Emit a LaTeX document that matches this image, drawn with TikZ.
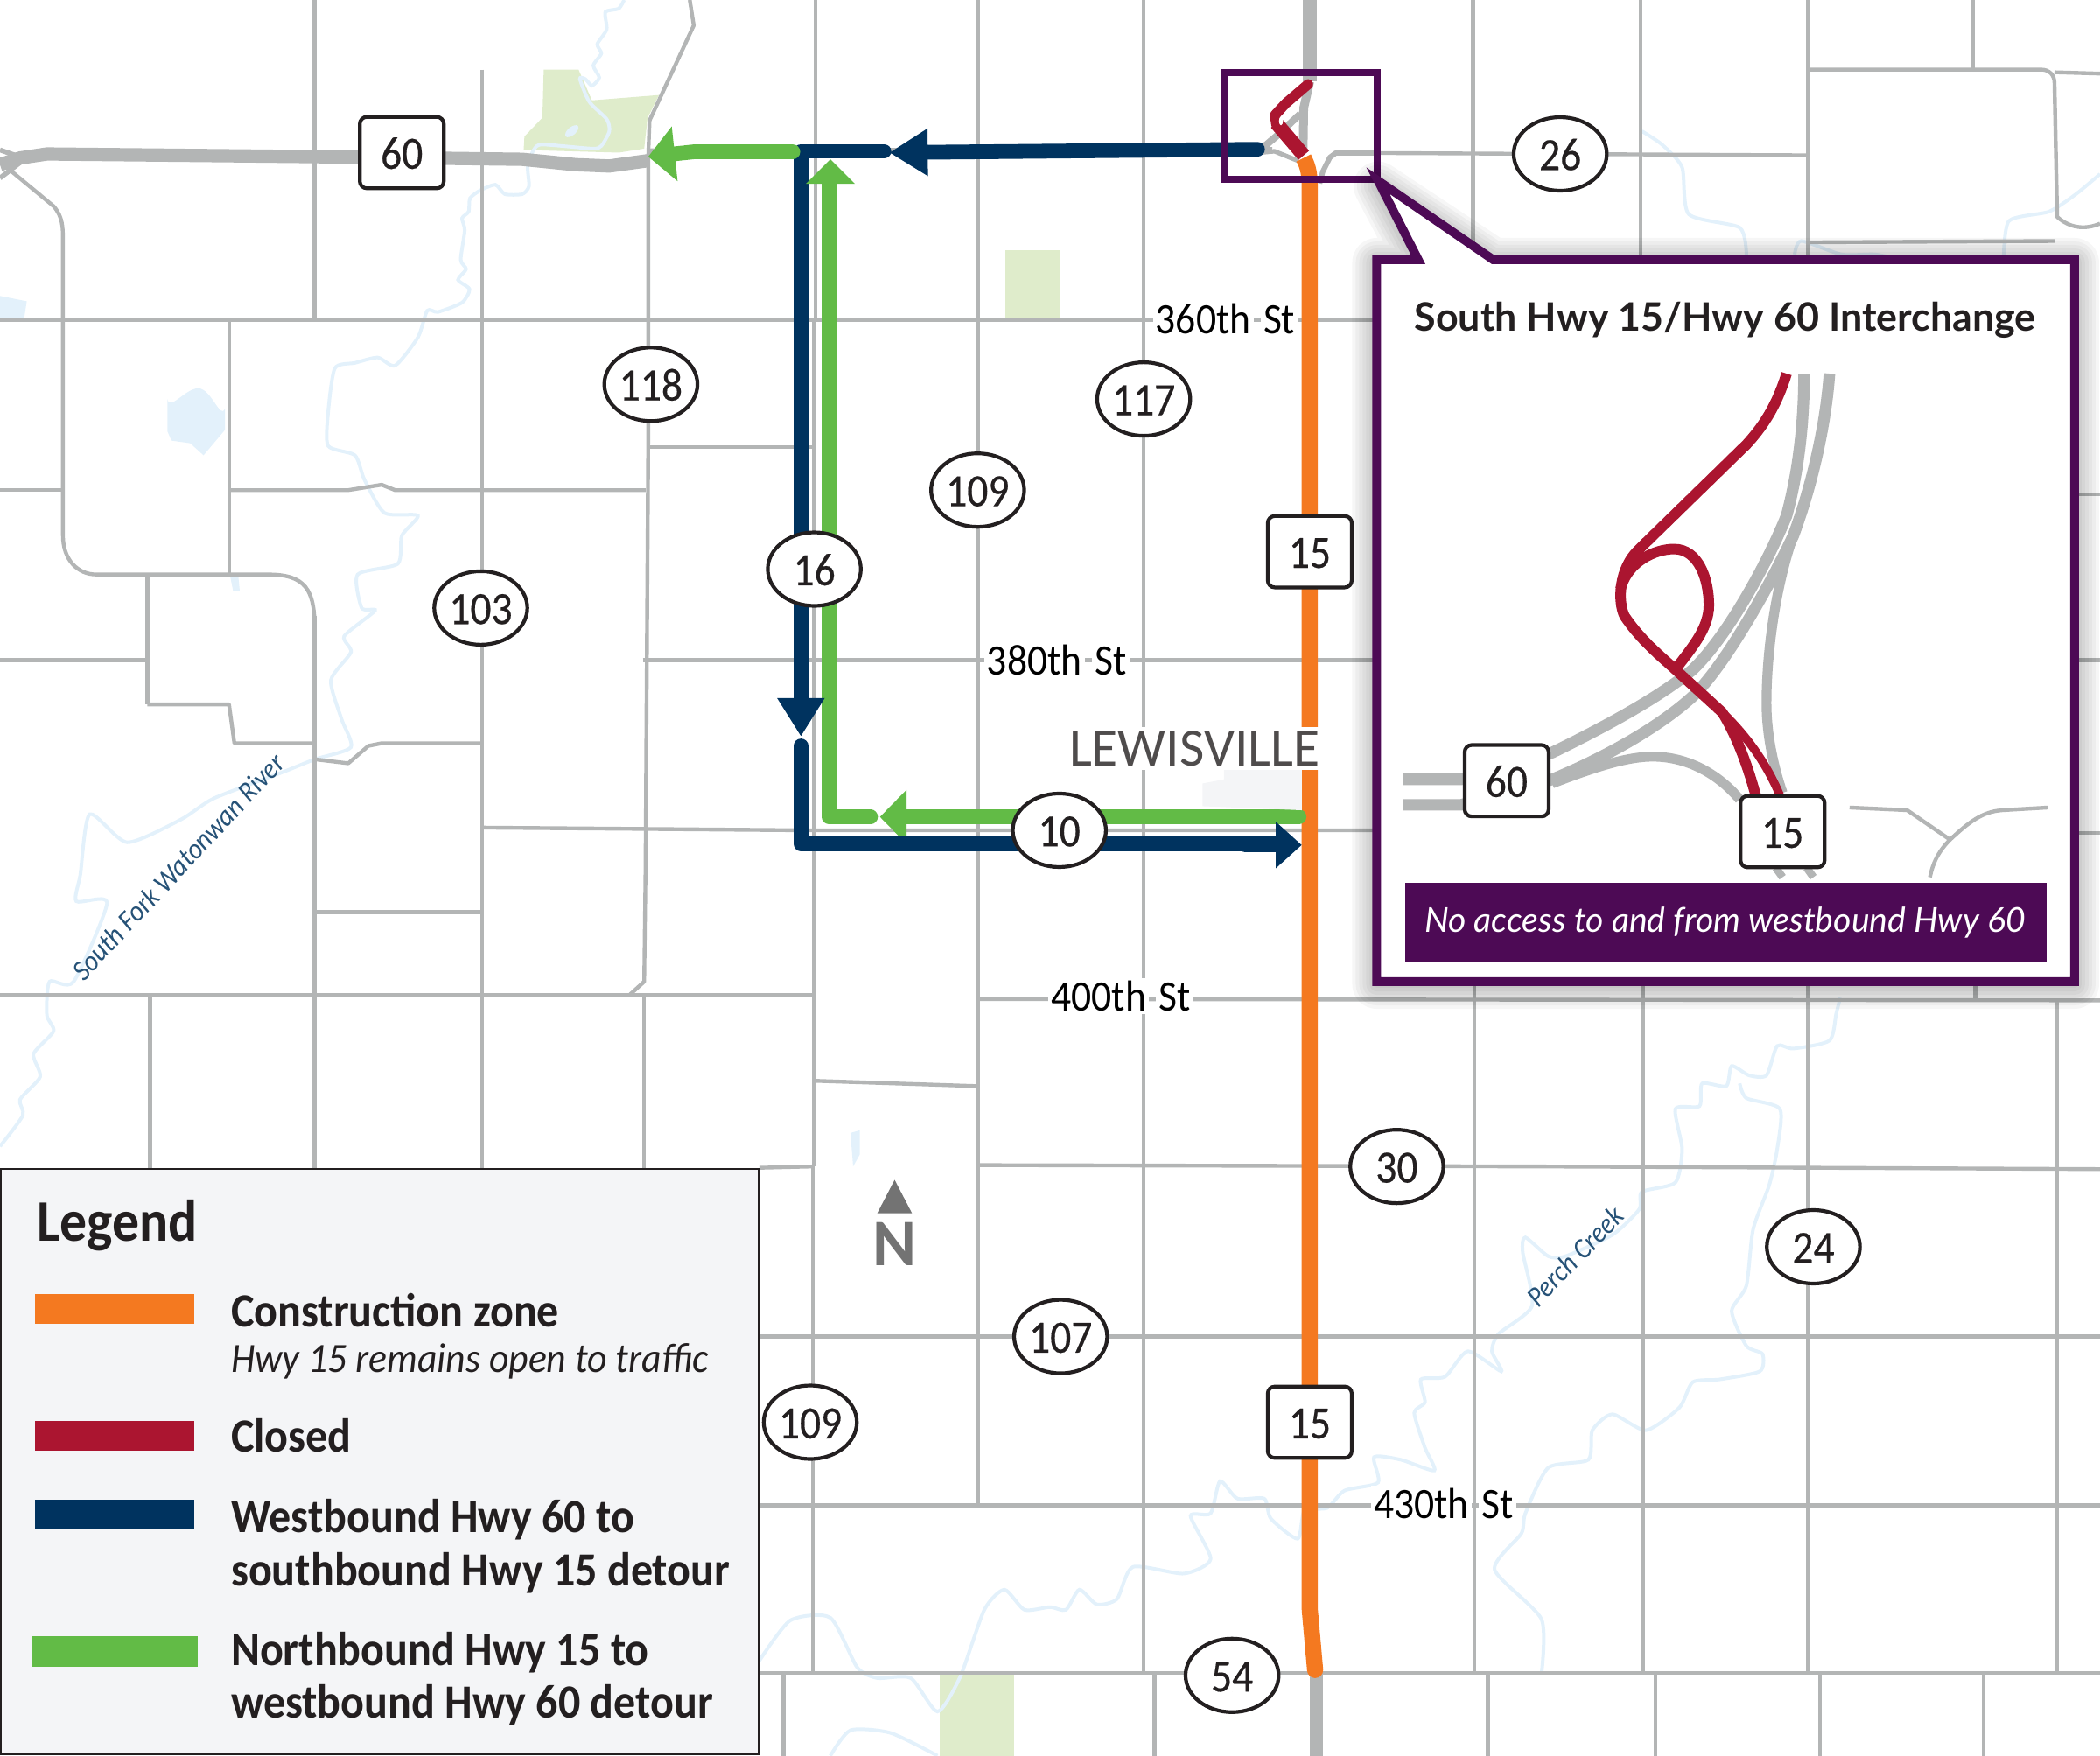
\documentclass[tikz,border=0pt]{standalone}
\usepackage{fontspec}
\setmainfont[FakeStretch=0.92]{Carlito}
\newfontfamily\insetfont{Lato}
\newfontfamily\townfont{Carlito}
\newfontfamily\shieldfont[FakeStretch=0.9, FakeBold=0.35]{Carlito}
\usetikzlibrary{positioning, shapes.geometric, arrows.meta}

\definecolor{roadgray}{HTML}{B3B5B5}
\definecolor{watercol}{HTML}{E3F1FB}
\definecolor{parkcol}{HTML}{DFECCB}
\definecolor{zoneorange}{HTML}{F47920}
\definecolor{closedred}{HTML}{AB1530}
\definecolor{navyroute}{HTML}{00335F}
\definecolor{greenroute}{HTML}{62BB46}
\definecolor{insetpurple}{HTML}{4D0A55}
\definecolor{inkdark}{HTML}{231F20}
\definecolor{legendbg}{HTML}{F4F5F7}

\tikzset{
  road/.style={draw=roadgray, line width=1.1pt, line join=round},
  highway/.style={draw=roadgray, line width=3.8pt, line join=round},
  ramp/.style={draw=roadgray, line width=3.3pt, line cap=butt},
  river/.style={draw=watercol, line width=1pt},
  water/.style={fill=watercol, draw=none},
  park/.style={fill=parkcol, draw=none},
  shieldoval/.style={ellipse, draw=inkdark, fill=white, line width=1.05pt, minimum width=26.6pt, minimum height=21pt, inner sep=0pt, text=inkdark, text height=9.2pt, text depth=0pt, font=\shieldfont\fontsize{13.2}{15}\selectfont},
  shieldbox/.style={rectangle, rounded corners=2pt, draw=inkdark, fill=white, line width=1.05pt, minimum width=24pt, minimum height=20.4pt, inner sep=0pt, text=inkdark, text height=9.2pt, text depth=0pt, font=\shieldfont\fontsize{13.2}{15}\selectfont},
  navyline/.style={draw=navyroute, line width=4.2pt, line cap=round, line join=round},
  greenline/.style={draw=greenroute, line width=4.2pt, line cap=round, line join=round},
  closedline/.style={draw=closedred, line width=3pt, line join=round},
  streetname/.style={inner sep=0pt, text=black, font=\fontsize{12.4}{14}\selectfont},
  rivername/.style={inner sep=0pt, text=navyroute!85, font=\fontsize{8.2}{10}\itshape\selectfont},
  legendtext/.style={anchor=base west, inner sep=0pt, text=inkdark, font=\fontsize{13.6}{16}\bfseries\selectfont},
}
\newcommand{\gapname}[2]{\setlength{\fboxsep}{0.8pt}\colorbox{white}{#1}\,\colorbox{white}{#2}}

\begin{document}
\begin{tikzpicture}[x=0.38265pt, y=-0.38265pt]
  \useasboundingbox (0,0) rectangle (1568,1310.6);
  \clip (0,0) rectangle (1568,1310.6);

  % Parks and water
  \fill[park] (406,52) -- (432,52) -- (442,75) -- (492,71) -- (483.5,88) -- (481,111) -- (462,114) -- (391,112) -- (391.6,102) -- (405,88) -- cycle;
  \fill[park] (751,187) rectangle (792,238);
  \fill[park] (702,1250) rectangle (757,1311);
  \fill[water] (0,221) -- (20,225) -- (18,238) -- (0,239) -- cycle;
  \fill[water] (125,298) to[out=-80,in=180] (148,290) to[out=0,in=-110] (168,305) -- (168,321) -- (152,340) -- (142,331) -- (128,329) -- (125,322) -- cycle;
  \fill[water] (172,431) -- (178,431) -- (179,441) -- (174,441) -- cycle;
  \fill[water] (635,846) -- (642,844) -- (642,862) -- (637,871) -- cycle;
  \fill[water, rotate around={40:(427,98)}] (427,98) ellipse [x radius=6, y radius=3];

  % Rivers
  \draw[river] plot[smooth, tension=0.4] coordinates {(466,0) (462,6.5) (452,9) (453,22) (446,33) (449,40) (443,49) (447.5,58) (442,64) (437,59) (433,59) (440,76) (453,89) (455,98) (449,109) (442,111) (405,108) (398.5,112) (394,124) (395,139) (390,145) (377,145) (370,138) (359,142) (351,148) (350,158) (345,163) (347,172) (344,194) (348,201) (342,209) (350.6,216) (345,226) (327,233) (319,232) (312,252) (295,273) (282,267) (265,271) (250,275) (245,308) (245,333) (265,340) (272,358) (287,383) (312,385) (300,400) (297,421) (267,429) (270,454) (280,456) (257,475) (262,487) (247,508) (255,537) (262,558) (235,567) (210,577) (160,596) (135,612) (95,629) (67,608) (60,653) (57,673) (80,674) (55,733) (37,733) (35,758) (40,770) (25,787) (30,804) (15,821) (17,833) (0,856)};
  \draw[river] plot[smooth, tension=0.4] coordinates {(1374,745) (1371,757) (1366,777) (1339,783) (1327,781) (1319,803) (1306,803) (1293,796) (1289,811) (1271,809) (1269,826) (1251,828) (1256,858) (1251,883) (1226,890) (1224,903) (1204,922) (1169,938) (1156,938) (1139,924) (1137,935) (1144,975) (1119,996) (1114,1009) (1121,1024) (1096,1009) (1079,1028) (1061,1030) (1064,1047) (1056,1055) (1064,1081) (1071,1098) (1046,1090) (1026,1088) (1029,1107) (1004,1113) (991,1126) (974,1128) (969,1149) (949,1134) (944,1119) (924,1119) (911,1106) (904,1130) (889,1132) (904,1164) (884,1175) (846,1170) (834,1194) (819,1198) (806,1187) (796,1202) (784,1200) (765,1202) (750,1187) (735,1202) (717,1252) (700,1278) (680,1253) (655,1253) (640,1245) (620,1208) (590,1210) (567,1240)};
  \draw[river] plot[smooth, tension=0.4] coordinates {(1299,809) (1304,820) (1329,828) (1327,858) (1321,885) (1309,918) (1304,960) (1293,979) (1304,1005) (1316,1011) (1314,1024) (1284,1030) (1264,1032) (1254,1051) (1229,1068) (1204,1056) (1189,1068) (1186,1090) (1156,1096) (1139,1130) (1136,1145) (1116,1172) (1151,1209) (1151,1250)};
  \draw[river] plot[smooth, tension=0.4] coordinates {(620,1311) (635,1292) (665,1294) (700,1311)};
  \draw[river] plot[smooth, tension=0.4] coordinates {(1226,98) (1241,108) (1256,125) (1261,160) (1299,170) (1304,190)};
  \draw[river] plot[smooth, tension=0.4] coordinates {(1340,190) (1345,180) (1375,190) (1400,190) (1420,194)};
  \draw[river] plot[smooth, tension=0.4] coordinates {(1496,194) (1500,165) (1530,158) (1550,145) (1568,130)};

  % Straight roads
  \foreach \x/\a/\b in {235/0/239, 235/460/873, 360/52/873, 609/0/240, 608/240/871, 607/871/1250, 730/0/1124, 854/0/1248, 1100/0/194, 1225/0/194, 1350/0/194, 1473/0/52, 1101/736/1248, 1227/736/1248, 1350/736/1248, 1475/736/746, 1536/746/1248, 862/1250/1311, 1111/1250/1311, 1236/1250/1311, 1359/1250/1311, 1481/1250/1311, 585/1250/1311, 112/744/873, 171/239/429, 110/429/526, 481/743/873}
    \draw[road] (\x,\a) -- (\x,\b);
  \foreach \y/\a/\b in {239/0/1028, 366/0/47, 334/484/608, 493/0/110, 493/480/1030, 681/235/360, 1124/567/1568, 1249/567/1568, 369/1552/1568, 493/1552/1568, 622/1552/1568}
    \draw[road] (\a,\y) -- (\b,\y);
  \draw[road, line width=1.3pt] (0,743) -- (607,743);
  \draw[road, line width=1.3pt] (567,998) -- (1568,998);

  % Bent roads
  \draw[road] (171,366) -- (260,366) -- (285,362) -- (295,366) -- (482,366);
  \draw[road] (515,0) -- (518,19) -- (485,90) -- (484,117) -- (484,330) -- (482,650) -- (481,733) -- (470,743);
  \draw[road] (5,125) -- (40,154) .. controls (47,162) and (47,170) .. (47,180) -- (47,400) .. controls (47,418) and (58,429) .. (72,429) -- (200,429) .. controls (228,429) and (235,440) .. (235,470);
  \draw[road] (110,526) -- (171,526) -- (175,555) -- (235,555);
  \draw[road] (235,567) -- (260,570) -- (275,557) -- (285,555) -- (360,555);
  \draw[road] (360,618) -- (484,619) -- (600,620) -- (1030,620);
  \draw[road] (607,807) -- (729,811);
  \draw[road] (730,870) -- (1150,871) -- (1568,873);
  \draw[road] (567,872) -- (607,871);
  \draw[road] (730,746) -- (1568,747);
  \draw[road, line width=1.5pt] (985.4,137) -- (987.6,128.5) -- (993,117.6) -- (997.4,114.3) -- (1030,114.3);
  \draw[road] (1030,114.3) -- (1350,116);
  \draw[road] (1350,52) -- (1524,52) .. controls (1530,52) and (1534,56) .. (1534,62) -- (1536,162) .. controls (1545,170) and (1556,172) .. (1568,167);
  \draw[road] (1534,54) -- (1568,55);
  \draw[road] (1350,181) -- (1534,180);

  % Highways
  \draw[highway] (978,0) -- (978,61);
  \draw[highway] (983,1245) -- (983,1311);
  \draw[highway] (0,123) -- (15,118) -- (35,115) -- (235,117) -- (390,119) -- (430,123) -- (455,124) -- (484,120);
  \draw[road, line width=1.4pt] (0,112) -- (20,119) (0,133) -- (22,116);
  \draw[road, line width=1.6pt] (484,113) -- (950,112);
  \draw[road, line width=2.5pt] (978,61) -- (973.5,80.6) -- (973,113);
  \draw[road, line width=2pt] (941,112) -- (954,101) -- (971,85);
  \draw[road, line width=1.3pt] (941,114) -- (951.7,113) -- (969,120);

  % Construction zone
  \draw[draw=zoneorange, line width=4.6pt, line join=round] (973.4,118) .. controls (976,123) and (978,128) .. (978,140) -- (978,1202) -- (982,1247);
  \fill[zoneorange] (982,1247) circle (2.3pt);
  \draw[closedline, line width=2.9pt, line cap=round] (976.7,63) -- (960,77.3) -- (952,86) -- (953,93);
  \draw[closedline, line width=4pt] (953,92) -- (973.5,116);
  \fill[white] (956.5,90.4) ellipse [x radius=1.5, y radius=3.2];

  % Detours
  \draw[greenline, -{Triangle[length=7.6pt, width=15pt]}] (970,610) -- (657,610);
  \draw[greenline] (650,610) -- (619,610) -- (619,135);
  \draw[navyline] (660,113) -- (598,113) -- (598,530);
  \draw[navyline, -{Triangle[length=11pt, width=12.8pt]}] (598,500) -- (598,550);
  \draw[navyline] (598,557) -- (598,630) -- (955,630);
  \draw[navyline, -{Triangle[length=7.4pt, width=12.8pt]}] (930,631) -- (972,631);
  \draw[navyline, -{Triangle[length=11pt, width=12.8pt]}] (939,111.5) -- (664,114);
  \draw[greenline, -{Triangle[length=7pt, width=13.6pt]}] (620,150) -- (620,119);
  \draw[greenline, -{Triangle[length=7.6pt, width=15.3pt]}] (592,113.4) -- (518,113.4) -- (484,117);

  % Small box on the map
  \draw[insetpurple, line width=2pt] (914,54.5) rectangle (1028.5,134);

  % Town
  \fill[legendbg] (898,585) -- (914,582) -- (914,568) -- (972,575) -- (972,605) -- (898,602) -- cycle;
  \node[fill=white, inner sep=1pt, text=inkdark!80, font=\townfont\fontsize{15.4}{17}\selectfont] (lewisville) at (892,559) {LEWISVILLE};

  % Street names
  \node[streetname] (st360) at (915,238) {\gapname{360th}{St}};
  \node[streetname] (st380) at (789,493) {\gapname{380th}{St}};
  \node[streetname] (st400) at (837,744) {\gapname{400th}{St}};
  \node[streetname] (st430) at (1078,1123) {\gapname{430th}{St}};
  \node[rivername, rotate=47] (watonwan) at (133,647) {South Fork Watonwan River};
  \node[rivername, rotate=46] (perch) at (1176,938) {Perch Creek};

  % Shields
  \foreach \name/\x/\y/\num in {sa/486/287/118, sb/359/454/103, sc/730/366/109, sd/608/425/16, se/854/298/117, sf/1165/115/26, sg/791/620/10, sh/1043/871/30, si/1354/931/24, sj/792/998/107, sk/605/1062/109, sl/920/1251/54}
    \node[shieldoval] (\name) at (\x,\y) {\num};
  \node[shieldbox] (hwysixty) at (300,114) {60};
  \node[shieldbox] (hwya) at (978,412) {15};
  \node[shieldbox] (hwyb) at (978,1062) {15};

  % North arrow
  \fill[black!55!white] (655,906) -- (668,881) -- (681,906) -- cycle;
  \node[text=black!55!white, inner sep=0pt, font=\townfont\fontsize{19}{20}\bfseries\selectfont] (north) at (668,929) {N};

  % Inset
  \foreach \w in {2,4,...,14}
    \draw[black, opacity=0.035, line width=\w pt, line join=round] (1028,196) -- (1059,196) -- (1029,139) -- (1115,196) -- (1549,196) -- (1549,735) -- (1028,735) -- cycle;
  \path[fill=white, draw=insetpurple, line width=2.5pt, line join=miter] (1028,194) -- (1059,194) -- (1029,135) -- (1115,194) -- (1549,194) -- (1549,733) -- (1028,733) -- cycle;
  \node[inner sep=0pt, text=inkdark, font=\insetfont\fontsize{11.2}{15}\bfseries\selectfont] (insettitle) at (1288,239) {South Hwy 15/Hwy 60 Interchange};

  \draw[ramp] (1048,582) -- (1091,582) -- (1159,562) .. controls (1200,542) and (1240,520) .. (1264,500) .. controls (1290,475) and (1320,420) .. (1334,385) .. controls (1342,355) and (1347,320) .. (1347,279);
  \draw[ramp] (1048,601) -- (1091,601) -- (1159,582) .. controls (1200,565) and (1240,542) .. (1264,520) .. controls (1290,495) and (1325,430) .. (1339,400) .. controls (1352,365) and (1363,320) .. (1366,279);
  \draw[ramp, line width=2.8pt] (1159,585) .. controls (1190,573) and (1215,565) .. (1234,565) .. controls (1262,565) and (1285,580) .. (1299,597);
  \draw[ramp, line width=2.8pt] (1339,400) .. controls (1325,440) and (1319,490) .. (1319,525) .. controls (1319,550) and (1325,575) .. (1331,592);
  \draw[ramp, line width=2.2pt] (1326,648) -- (1331,655) (1349,648) -- (1354,655);
  \draw[road] (1381,603) -- (1424,605) -- (1456,627) .. controls (1470,614) and (1480,606) .. (1495,605) -- (1529,603);
  \draw[road] (1456,627) .. controls (1447,636) and (1443,645) .. (1441,655);

  \draw[closedline] (1334,279) .. controls (1326,305) and (1315,320) .. (1304,332) -- (1224,410) .. controls (1208,425) and (1208,450) .. (1213,460) .. controls (1225,478) and (1240,490) .. (1251,500) -- (1286,532) .. controls (1297,550) and (1305,572) .. (1311,594);
  \draw[closedline] (1210,440) .. controls (1215,420) and (1235,410) .. (1250,410) .. controls (1268,410) and (1276,432) .. (1276,452) .. controls (1276,470) and (1262,485) .. (1251,500);
  \draw[closedline, line width=2.4pt] (1286,532) .. controls (1305,550) and (1320,572) .. (1329,594);

  \node[shieldbox] (insetsixty) at (1125,583) {60};
  \node[shieldbox] (insetfifteen) at (1331,621) {15};

  \fill[insetpurple] (1049.5,659) rectangle (1528,718);
  \node[inner sep=0pt, text=white, font=\insetfont\fontsize{9.8}{12}\itshape\selectfont] (insetnote) at (1288,689) {No access to and from westbound Hwy 60};

  % Legend
  \path[fill=legendbg, draw=inkdark, line width=0.6pt] (0.5,873) rectangle (566.5,1310);
  \node[anchor=base west, inner sep=0pt, text=inkdark, font=\fontsize{16.8}{18}\bfseries\selectfont] (legendtitle) at (27,926.5) {Legend};
  \fill[zoneorange] (26,966) rectangle (145,988.5);
  \fill[closedred] (26,1061) rectangle (145,1083.5);
  \fill[navyroute] (26,1120) rectangle (145,1142);
  \fill[greenroute] (24,1221.5) rectangle (147.5,1244.5);
  \foreach \y/\txt in {990.5/Construction zone, 1084/Closed, 1144/Westbound Hwy 60 to, 1184/southbound Hwy 15 detour, 1243.5/Northbound Hwy 15 to, 1283/westbound Hwy 60 detour}
    \node[legendtext] at (172,\y) {\txt};
  \node[legendtext, font=\fontsize{11.9}{15}\itshape\selectfont] (legendnote) at (172,1024.5) {Hwy 15 remains open to traffic};
\end{tikzpicture}
\end{document}
